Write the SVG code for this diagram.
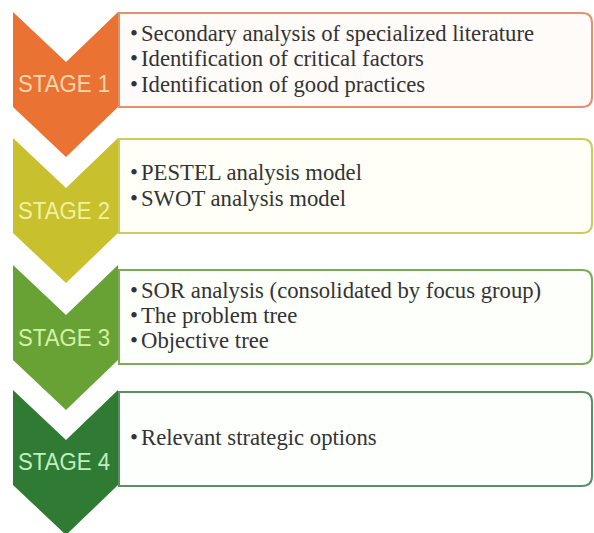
<svg xmlns="http://www.w3.org/2000/svg" width="594" height="533" viewBox="0 0 594 533">
  <style>
    .stage { font-family: "Liberation Sans", Arial, sans-serif; font-size: 23px; text-anchor: middle; }
    .item { font-family: "Liberation Serif", "Times New Roman", serif; font-size: 22.7px; fill: #333333; }
    .box { stroke-width: 2; }
  </style>
  <defs>
    <!-- chevron: notched top, pointed bottom -->
    <path id="chev" d="M13,0 L66,50 L118,0 L118,95 L66,145 L13,95 Z"/>
    <!-- text box, square on the left, rounded on the right -->
    <path id="card" d="M119,0 H582 Q592,0 592,10 V84 Q592,94 582,94 H119 Z"/>
  </defs>
  <rect width="594" height="533" fill="#ffffff"/>

  <g id="connectors"></g>

  <g id="stage1">
    <use href="#card" transform="translate(0,13)" class="box" fill="#fffbf9" stroke="#e3916d"/>
    <use href="#chev" transform="translate(0,12)" fill="#ea7334"/>
    <text class="stage" x="64" y="92" fill="#fbd7ae" textLength="92" lengthAdjust="spacingAndGlyphs">STAGE 1</text>
    <text class="item" x="130" y="41">•</text>
    <text class="item" x="141" y="41">Secondary analysis of specialized literature</text>
    <text class="item" x="130" y="66">•</text>
    <text class="item" x="141" y="66">Identification of critical factors</text>
    <text class="item" x="130" y="92">•</text>
    <text class="item" x="141" y="92">Identification of good practices</text>
  </g>

  <g id="stage2">
    <use href="#card" transform="translate(0,139)" class="box" fill="#fffff8" stroke="#cccb62"/>
    <use href="#chev" transform="translate(0,138)" fill="#c8c02c"/>
    <text class="stage" x="64" y="219" fill="#f3f0a2" textLength="92" lengthAdjust="spacingAndGlyphs">STAGE 2</text>
    <text class="item" x="130" y="180">•</text>
    <text class="item" x="141" y="180">PESTEL analysis model</text>
    <text class="item" x="130" y="206">•</text>
    <text class="item" x="141" y="206">SWOT analysis model</text>
  </g>

  <g id="stage3">
    <use href="#card" transform="translate(0,270)" class="box" fill="#fdfffb" stroke="#7eaa5c"/>
    <use href="#chev" transform="translate(0,265)" fill="#69a234"/>
    <text class="stage" x="64" y="346" fill="#d2f3a6" textLength="92" lengthAdjust="spacingAndGlyphs">STAGE 3</text>
    <text class="item" x="130" y="298">•</text>
    <text class="item" x="141" y="298">SOR analysis (consolidated by focus group)</text>
    <text class="item" x="130" y="323">•</text>
    <text class="item" x="141" y="323">The problem tree</text>
    <text class="item" x="130" y="348">•</text>
    <text class="item" x="141" y="348">Objective tree</text>
  </g>

  <g id="stage4">
    <use href="#card" transform="translate(0,392)" class="box" fill="#fdfffd" stroke="#5a8f64"/>
    <use href="#chev" transform="translate(0,390)" fill="#2f7b33"/>
    <text class="stage" x="64" y="470" fill="#bff0c0" textLength="92" lengthAdjust="spacingAndGlyphs">STAGE 4</text>
    <text class="item" x="130" y="445">•</text>
    <text class="item" x="141" y="445">Relevant strategic options</text>
  </g>
</svg>
